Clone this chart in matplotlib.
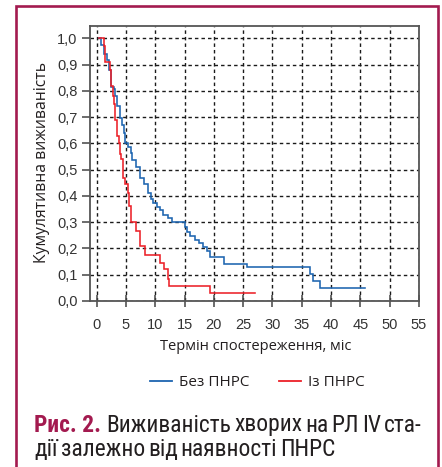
import matplotlib
matplotlib.use("Agg")
import matplotlib.pyplot as plt
from matplotlib.lines import Line2D
from matplotlib import font_manager as fm

# ---- data ----
blue_label = "Без ПНРС"
red_label = "Із ПНРС"

blue_t = [0.4, 0.8, 1.2, 1.8, 2.1, 2.5, 2.9, 3.2, 3.55, 4.0, 4.35, 4.65, 4.9, 5.4,
          5.8, 6.1, 6.7, 7.4, 8.0, 8.8, 9.2, 9.7, 10.3, 10.8, 11.4, 12.25, 12.8,
          15.1, 15.5, 16.0, 16.8, 17.4, 18.2, 18.8, 19.4, 21.8, 25.7, 36.4, 37.0,
          38.1, 45.8]
blue_s = [1.0, 0.975, 0.94, 0.917, 0.88, 0.813, 0.806, 0.78, 0.742, 0.695, 0.67,
          0.64, 0.60, 0.587, 0.562, 0.537, 0.511, 0.467, 0.445, 0.41, 0.39, 0.374,
          0.359, 0.346, 0.327, 0.315, 0.30, 0.283, 0.264, 0.247, 0.232, 0.22,
          0.204, 0.191, 0.169, 0.141, 0.128, 0.103, 0.077, 0.051, 0.051]

red_t = [0.4, 1.3, 1.5, 2.2, 2.4, 2.8, 3.0, 3.2, 3.4, 3.8, 4.0, 4.2, 4.5, 4.9, 5.3,
         5.6, 5.8, 6.7, 7.4, 8.3, 10.8, 11.5, 12.1, 12.4, 19.4, 27.0]
red_s = [1.0, 0.97, 0.91, 0.88, 0.82, 0.78, 0.75, 0.69, 0.63, 0.60, 0.56, 0.54,
         0.47, 0.445, 0.41, 0.36, 0.30, 0.265, 0.21, 0.175, 0.145, 0.12, 0.085,
         0.057, 0.029, 0.029]

x_ticks = [0, 5, 10, 15, 20, 25, 30, 35, 40, 45, 50, 55]
y_ticks = [0.0, 0.1, 0.2, 0.3, 0.4, 0.5, 0.6, 0.7, 0.8, 0.9, 1.0]
y_ticklabels = ["0,0", "0,1", "0,2", "0,3", "0,4", "0,5", "0,6", "0,7", "0,8", "0,9", "1,0"]

x_label = "Термін спостереження, міс"
y_label = "Кумулятивна виживаність"
caption_bold = "Рис. 2."
caption_line1 = "Виживаність хворих на РЛ IV ста-"
caption_line2 = "дії залежно від наявності ПНРС"

# ---- style ----
W, H = 442, 467
BLUE = "#1d64b0"
RED = "#ec2028"
CRIMSON = "#a31a4f"
TEXT = "#231f20"

fig = plt.figure(figsize=(W / 100, H / 100), dpi=100)
fig.patch.set_facecolor("white")

def fx(px):
    return px / W

def fy(py):
    return 1 - py / H

ax = fig.add_axes([fx(90), fy(301), fx(419) - fx(90), fy(25.7) - fy(301)])
ax.set_xlim(-1.13, 55)
ax.set_ylim(0, 1.048)

ax.step(blue_t, blue_s, where="post", color=BLUE, lw=1.15, solid_joinstyle="miter")
ax.step(red_t, red_s, where="post", color=RED, lw=1.15, solid_joinstyle="miter")

ax.set_xticks(x_ticks)
ax.set_yticks(y_ticks)
ax.set_yticklabels(y_ticklabels)
for lab in ax.get_xticklabels() + ax.get_yticklabels():
    lab.set_fontfamily(["Liberation Sans", "DejaVu Sans"])
    lab.set_fontsize(10.5)
    lab.set_color("#333333")
ax.tick_params(axis="x", direction="inout", length=8, width=1.1, pad=8, color="#444444")
ax.tick_params(axis="y", direction="out", length=6, width=1.1, pad=3, color="#444444")

ax.grid(True, color="#1a1a1a", lw=1.0, linestyle=(0, (2.5, 2.2)))
ax.set_axisbelow(True)
for sp in ax.spines.values():
    sp.set_color("#555555")
    sp.set_linewidth(1.3)

lab_font = ["Open Sans", "DejaVu Sans"]
fig.text(fx(256), fy(347), x_label, ha="center", va="center", fontsize=10.5,
         family=lab_font, color=TEXT)
fig.text(fx(42.5), fy(162.5), y_label, ha="center", va="center", rotation=90,
         fontsize=11.3, family=lab_font, color=TEXT)

handles = [Line2D([], [], color=BLUE, lw=1.3), Line2D([], [], color=RED, lw=1.3)]
fig.legend(handles, [blue_label, red_label], loc="center",
           bbox_to_anchor=(fx(257), fy(383)), ncol=2, frameon=False,
           prop=dict(family=lab_font, size=11), handlelength=1.45,
           handletextpad=0.45, columnspacing=1.95, labelcolor=TEXT)

# frame
fig.add_artist(Line2D([fx(16), fx(16), fx(438), fx(438)],
                      [fy(480), fy(5.5), fy(5.5), fy(480)],
                      transform=fig.transFigure, color=CRIMSON, lw=1.9,
                      solid_joinstyle="miter"))

# caption font: prefer a narrow Helvetica-like face if one is installed
def have(name):
    try:
        fm.findfont(fm.FontProperties(family=name), fallback_to_default=False)
        return True
    except Exception:
        return False

cap_font = ["Roboto", "Liberation Sans", "DejaVu Sans"]
for cand in ["Liberation Sans Narrow", "Arial Narrow", "Roboto Condensed"]:
    if have(cand):
        cap_font = [cand, "Liberation Sans", "DejaVu Sans"]
        break

r = fig.canvas.get_renderer()
X0, X1 = 34, 420
GAP = 3.0

def place_line(words, y, size, x_start=X0):
    arts = []
    x = x_start
    for w, bold in words:
        t = fig.text(x / W, fy(y), w, ha="left", va="baseline", fontsize=size,
                     weight="bold" if bold else "normal", family=cap_font,
                     color=CRIMSON if bold else TEXT)
        bb = t.get_window_extent(r)
        x = bb.x1 + (5 if bold else GAP)
        arts.append(t)
    return arts, x - GAP

line1_words = [(caption_bold, True)] + [(w, False) for w in caption_line1.split(" ")]
line2_words = [(w, False) for w in caption_line2.split(" ")]

size = 17.5
arts, xend = place_line(line1_words, 431.5, size)
for a in arts:
    a.remove()
size = min(18.0, size * (X1 - X0) / (xend - X0))
place_line(line1_words, 431.5, size)
place_line(line2_words, 456.5, size)

fig.savefig("out.png", dpi=100, facecolor="white")
